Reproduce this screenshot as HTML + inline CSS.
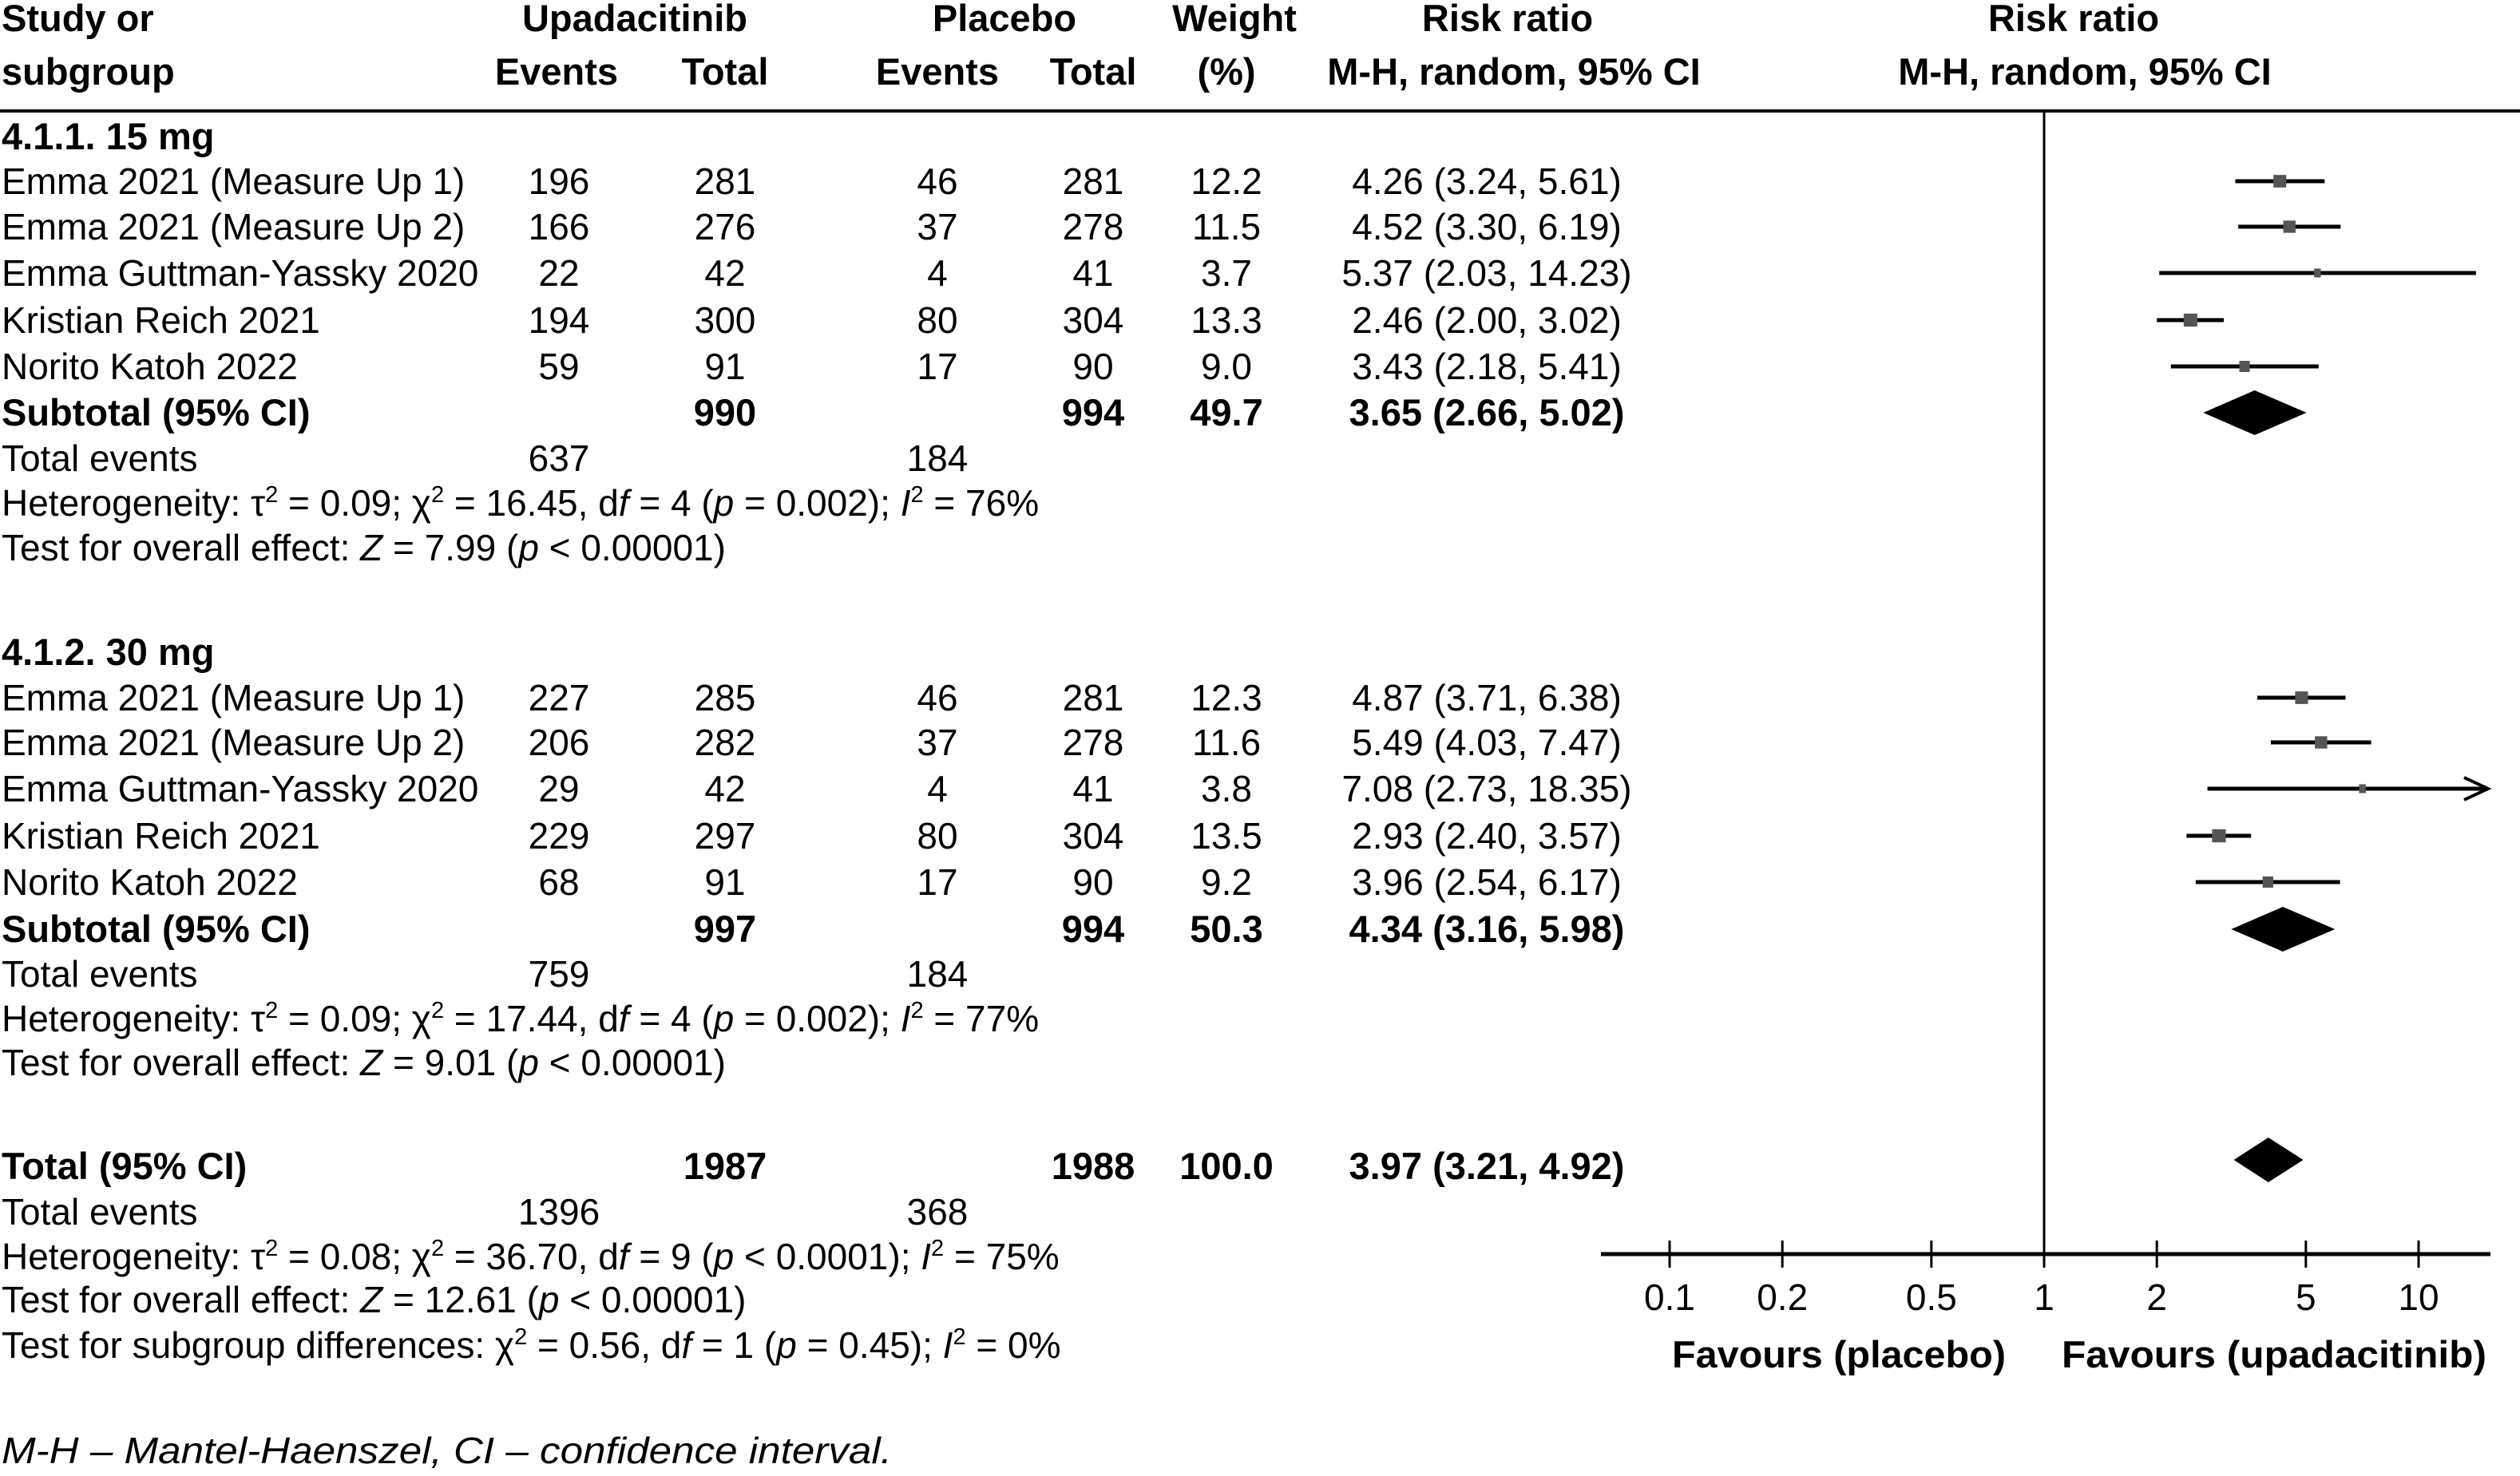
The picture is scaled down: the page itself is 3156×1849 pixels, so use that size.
<!DOCTYPE html>
<html><head><meta charset="utf-8"><style>
html,body{margin:0;padding:0;background:#fff;}
svg{display:block;font-family:"Liberation Sans",sans-serif;}
text{font-size:46px;fill:#000;}
.b{font-weight:bold;font-size:47px;}
</style></head><body>
<svg id="c" width="3156" height="1849" viewBox="0 0 3156 1849" xmlns="http://www.w3.org/2000/svg">
<g>
<text x="2" y="39" class="b">Study or</text>
<text x="2" y="106" class="b">subgroup</text>
<text x="795" y="39" text-anchor="middle" class="b">Upadacitinib</text>
<text x="697" y="106" text-anchor="middle" class="b">Events</text>
<text x="908" y="106" text-anchor="middle" class="b">Total</text>
<text x="1258" y="39" text-anchor="middle" class="b">Placebo</text>
<text x="1174" y="106" text-anchor="middle" class="b">Events</text>
<text x="1369" y="106" text-anchor="middle" class="b">Total</text>
<text x="1546" y="39" text-anchor="middle" class="b">Weight</text>
<text x="1536" y="106" text-anchor="middle" class="b">(%)</text>
<text x="1888" y="39" text-anchor="middle" class="b">Risk ratio</text>
<text x="1896" y="106" text-anchor="middle" class="b">M-H, random, 95% CI</text>
<text x="2597" y="39" text-anchor="middle" class="b">Risk ratio</text>
<text x="2611" y="106" text-anchor="middle" class="b">M-H, random, 95% CI</text>
</g>
<line x1="0" y1="139" x2="3156" y2="139" stroke="#000" stroke-width="4"/>
<g id="rows"></g>
<g id="plot"></g>
<text x="2" y="1833" font-style="italic" textLength="1115" lengthAdjust="spacingAndGlyphs">M-H – Mantel-Haenszel, CI – confidence interval.</text>
</svg>
<script>
const names1=["Emma 2021 (Measure Up 1)","Emma 2021 (Measure Up 2)","Emma Guttman-Yassky 2020","Kristian Reich 2021","Norito Katoh 2022"];
const upaEv1=[196,166,22,194,59], upaTot1=[281,276,42,300,91], plaEv1=[46,37,4,80,17], plaTot1=[281,278,41,304,90];
const weight1=[12.2,11.5,3.7,13.3,9.0];
const rr1=[4.26,4.52,5.37,2.46,3.43], lo1=[3.24,3.30,2.03,2.00,2.18], hi1=[5.61,6.19,14.23,3.02,5.41];
const upaEv2=[227,206,29,229,68], upaTot2=[285,282,42,297,91], plaEv2=[46,37,4,80,17], plaTot2=[281,278,41,304,90];
const weight2=[12.3,11.6,3.8,13.5,9.2];
const rr2=[4.87,5.49,7.08,2.93,3.96], lo2=[3.71,4.03,2.73,2.40,2.54], hi2=[6.38,7.47,18.35,3.57,6.17];
const subRR=[3.65,4.34], subLo=[2.66,3.16], subHi=[5.02,5.98];
const subUpaTot=[990,997], subPlaTot=[994,994], subW=[49.7,50.3];
const subUpaEv=[637,759], subPlaEv=[184,184];
const totRR=3.97, totLo=3.21, totHi=4.92;
const tickVals=[0.1,0.2,0.5,1,2,5,10];
const tickLabels=["0.1","0.2","0.5","1","2","5","10"];

const NS="http://www.w3.org/2000/svg";
const rows=document.getElementById('rows'), plot=document.getElementById('plot');
const X0=2560, DEC=469, AXL=2005, AXR=3119, AXY=1571;
const xs=v=>X0+DEC*Math.log10(v);
function mk(tag,attrs,parent){const e=document.createElementNS(NS,tag);for(const k in attrs)e.setAttribute(k,attrs[k]);parent.appendChild(e);return e;}
function txt(x,y,s,anchor,bold,name,html){const t=mk('text',{x:x,y:y,'text-anchor':anchor||'start'},rows);if(bold)t.setAttribute('class','b');if(html)t.innerHTML=s;else t.textContent=s;


return t;}
const f2=v=>v.toFixed(2);
function ci(r,l,h){return f2(r)+" ("+f2(l)+", "+f2(h)+")";}
const B=16;
function studyRow(y,name,ue,ut,pe,pt,w,r,l,h,i){
  txt(2,y+B,name,'start',false,'study-name');
  txt(700,y+B,String(ue),'middle',false,'upa-events');
  txt(908,y+B,String(ut),'middle',false,'upa-total');
  txt(1174,y+B,String(pe),'middle',false,'placebo-events');
  txt(1369,y+B,String(pt),'middle',false,'placebo-total');
  txt(1536,y+B,w.toFixed(1),'middle',false,'weight');
  txt(1862,y+B,ci(r,l,h),'middle',false,'risk-ratio-ci');
  const xe=Math.min(xs(h),AXR-3);
  const ln=mk('line',{x1:xs(l),y1:y,x2:xe,y2:y,stroke:'#000','stroke-width':5},plot);
  
  
  if(xs(h)>AXR){const a=mk('path',{d:`M${xe-30},${y-14} L${xe},${y} L${xe-30},${y+14}`,fill:'none',stroke:'#000','stroke-width':4},plot);
    
    }
  const s=5+w*0.9, hgt=9+w*0.55;
  const bx=mk('rect',{x:xs(r)-s/2,y:y-hgt/2,width:s,height:hgt,fill:'#555'},plot);
  
  
}
function diamond(y,r,l,h,name){const d=mk('polygon',{points:`${xs(l)},${y} ${xs(r)},${y-28} ${xs(h)},${y} ${xs(r)},${y+28}`,fill:'#000'},plot);
  
  }

const sup=v=>'<tspan dy="-17" font-size="29">'+v+'</tspan><tspan dy="17">';
const groups=[
 {title:"4.1.1. 15 mg",ty:171,rowsY:[227,284,342,401,459],sub:517,ev:574,het:630,test:686,
  u:[upaEv1,upaTot1,plaEv1,plaTot1,weight1,rr1,lo1,hi1],
  hetT:'Heterogeneity: τ'+sup(2)+' = 0.09; χ</tspan>'+sup(2)+' = 16.45, d</tspan><tspan font-style="italic">f</tspan> = 4 (<tspan font-style="italic">p</tspan> = 0.002); <tspan font-style="italic">I</tspan>'+sup(2)+' = 76%</tspan>',
  testT:'Test for overall effect: <tspan font-style="italic">Z</tspan> = 7.99 (<tspan font-style="italic">p</tspan> &lt; 0.00001)'},
 {title:"4.1.2. 30 mg",ty:817,rowsY:[874,930,988,1047,1105],sub:1164,ev:1220,het:1276,test:1331,
  u:[upaEv2,upaTot2,plaEv2,plaTot2,weight2,rr2,lo2,hi2],
  hetT:'Heterogeneity: τ'+sup(2)+' = 0.09; χ</tspan>'+sup(2)+' = 17.44, d</tspan><tspan font-style="italic">f</tspan> = 4 (<tspan font-style="italic">p</tspan> = 0.002); <tspan font-style="italic">I</tspan>'+sup(2)+' = 77%</tspan>',
  testT:'Test for overall effect: <tspan font-style="italic">Z</tspan> = 9.01 (<tspan font-style="italic">p</tspan> &lt; 0.00001)'}
];
groups.forEach((g,gi)=>{
  txt(2,g.ty+B,g.title,'start',true,'subgroup-title');
  const [ue,ut,pe,pt,w,r,l,h]=g.u;
  for(let i=0;i<names1.length;i++)studyRow(g.rowsY[i],names1[i],ue[i],ut[i],pe[i],pt[i],w[i],r[i],l[i],h[i],i);
  txt(2,g.sub+B,"Subtotal (95% CI)",'start',true,'subtotal-label');
  txt(908,g.sub+B,String(subUpaTot[gi]),'middle',true,'subtotal-upa-total');
  txt(1369,g.sub+B,String(subPlaTot[gi]),'middle',true,'subtotal-placebo-total');
  txt(1536,g.sub+B,subW[gi].toFixed(1),'middle',true,'subtotal-weight');
  txt(1862,g.sub+B,ci(subRR[gi],subLo[gi],subHi[gi]),'middle',true,'subtotal-ci');
  diamond(g.sub,subRR[gi],subLo[gi],subHi[gi],'subtotal-diamond');
  txt(2,g.ev+B,"Total events",'start',false,'total-events-label');
  txt(700,g.ev+B,String(subUpaEv[gi]),'middle',false,'total-events-upa');
  txt(1174,g.ev+B,String(subPlaEv[gi]),'middle',false,'total-events-placebo');
  txt(2,g.het+B,g.hetT,'start',false,'heterogeneity',true);
  txt(2,g.test+B,g.testT,'start',false,'overall-effect-test',true);
});
txt(2,1461+B,"Total (95% CI)",'start',true,'total-label');
txt(908,1461+B,"1987",'middle',true,'total-upa');
txt(1369,1461+B,"1988",'middle',true,'total-placebo');
txt(1536,1461+B,"100.0",'middle',true,'total-weight');
txt(1862,1461+B,ci(totRR,totLo,totHi),'middle',true,'total-ci');
diamond(1453,totRR,totLo,totHi,'total-diamond');
txt(2,1518+B,"Total events",'start',false,'overall-events-label');
txt(700,1518+B,"1396",'middle',false,'overall-events-upa');
txt(1174,1518+B,"368",'middle',false,'overall-events-placebo');
txt(2,1574+B,'Heterogeneity: τ'+sup(2)+' = 0.08; χ</tspan>'+sup(2)+' = 36.70, d</tspan><tspan font-style="italic">f</tspan> = 9 (<tspan font-style="italic">p</tspan> &lt; 0.0001); <tspan font-style="italic">I</tspan>'+sup(2)+' = 75%</tspan>','start',false,'overall-heterogeneity',true);
txt(2,1628+B,'Test for overall effect: <tspan font-style="italic">Z</tspan> = 12.61 (<tspan font-style="italic">p</tspan> &lt; 0.00001)','start',false,'overall-effect-test-total',true);
txt(2,1685+B,'Test for subgroup differences: χ'+sup(2)+' = 0.56, d</tspan><tspan font-style="italic">f</tspan> = 1 (<tspan font-style="italic">p</tspan> = 0.45); <tspan font-style="italic">I</tspan>'+sup(2)+' = 0%</tspan>','start',false,'subgroup-differences',true);

const vl=mk('line',{x1:xs(1),y1:139,x2:xs(1),y2:AXY,stroke:'#000','stroke-width':3},plot);


const ax=mk('line',{x1:AXL,y1:AXY,x2:AXR,y2:AXY,stroke:'#000','stroke-width':5},plot);


tickVals.forEach((v,i)=>{
  const t=mk('line',{x1:xs(v),y1:AXY-17,x2:xs(v),y2:AXY+17,stroke:'#000','stroke-width':3},plot);
  
  
  const lb=mk('text',{x:xs(v),y:1641,'text-anchor':'middle'},plot);
  lb.textContent=tickLabels[i];
  
  
});
const fp=mk('text',{x:2512,y:1713,'text-anchor':'end','class':'b','textLength':418,'lengthAdjust':'spacingAndGlyphs'},plot);
fp.textContent="Favours (placebo)";


const fu=mk('text',{x:2582,y:1713,'text-anchor':'start','class':'b','textLength':532,'lengthAdjust':'spacingAndGlyphs'},plot);
fu.textContent="Favours (upadacitinib)";


</script>
</body></html>
